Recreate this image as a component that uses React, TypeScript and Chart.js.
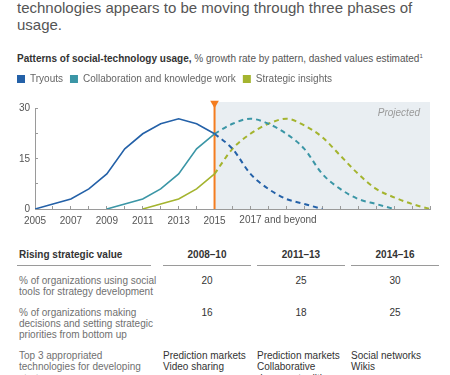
import React, { useEffect, useRef } from 'react';
import { Chart, registerables } from 'chart.js';

Chart.register(...registerables);

const FONT = '"Liberation Sans", Arial, Helvetica, sans-serif';

// ---- text ----
const titleLines = ['technologies appears to be moving through three phases of', 'usage.'];
const subtitleBold = 'Patterns of social-technology usage,';
const subtitleRest = ' % growth rate by pattern, dashed values estimated';
const subtitleNote = '1';

// ---- series ----
const seriesNames = ['Tryouts', 'Collaboration and knowledge work', 'Strategic insights'];
const seriesColors = ['#2461a8', '#3b96a6', '#a4b42f'];

const tryoutsActualStart = 2005;
const tryoutsActual = [0, 1.5, 3, 6, 10.5, 18, 22.5, 25.5, 27, 25.5, 22.5];
const collabActualStart = 2009;
const collabActual = [0, 1.5, 3, 6, 10.5, 18, 22.5];
const strategicActualStart = 2011;
const strategicActual = [0, 1.5, 3, 6, 10.5];

const estimateStart = 2015;
const tryoutsEstimated = [22.5, 18, 10.5, 6, 3, 1.5, 0];
const collabEstimated = [22.5, 25.5, 27, 25.5, 22.5, 18, 10.5, 6, 3, 1.5, 0];
const strategicEstimated = [10.5, 18, 22.5, 25.5, 27, 25, 21.5, 16, 10.5, 6, 3.5, 1.5, 0];

// ---- axes ----
const xMin = 2005;
const xMax = 2027;
const xLabelYears = [2005, 2007, 2009, 2011, 2013, 2015];
const beyondYear = 2017;
const beyondLabel = '2017 and beyond';
const yTicks = [0, 7.5, 15, 22.5, 30];
const yLabels = [0, 15, 30];
const yMax = 30;

// ---- projection ----
const todayYear = 2015;
const todayMarkerValue = 31.6;
const projectionTop = 32;
const projectedLabel = 'Projected';
const todayColor = '#f47d20';
const projectionFill = '#e9eef2';

// ---- table ----
const tableHeader = 'Rising strategic value';
const tableColumns = ['2008–10', '2011–13', '2014–16'];
const rowSocialLabel = ['% of organizations using social', 'tools for strategy development'];
const rowSocialValues = [20, 25, 30];
const rowBottomUpLabel = ['% of organizations making', 'decisions and setting strategic', 'priorities from bottom up'];
const rowBottomUpValues = [16, 18, 25];
const rowTechLabel = ['Top 3 appropriated', 'technologies for developing', 'strategy'];
const rowTechValues = [
  ['Prediction markets', 'Video sharing'],
  ['Prediction markets', 'Collaborative', 'document editing'],
  ['Social networks', 'Wikis'],
];

const TICK_LEN = -3;
const X_PAD = 9;
const LEGEND_GAP = 14.7;

const pts = (start: number, vals: number[]) => vals.map((v, i) => ({ x: start + i, y: v }));

const projectionPlugin = {
  id: 'projection',
  beforeLayout(chart: any) {
    const lg = chart.legend;
    if (lg && !lg._gapPatched) {
      const fit = lg.fit.bind(lg);
      lg.fit = () => {
        fit();
        lg.height += LEGEND_GAP;
      };
      lg._gapPatched = true;
    }
  },
  beforeDraw(chart: any) {
    const { ctx, chartArea, scales } = chart;
    const x0 = scales.x.getPixelForValue(todayYear);
    const y0 = scales.y.getPixelForValue(projectionTop);
    ctx.save();
    ctx.fillStyle = projectionFill;
    ctx.fillRect(x0, y0, chartArea.right - x0, chartArea.bottom - y0);
    ctx.restore();
  },
  afterDraw(chart: any) {
    const { ctx, chartArea, scales } = chart;
    const xs = scales.x;
    const ys = scales.y;
    ctx.save();
    ctx.font = `italic 10px ${FONT}`;
    ctx.fillStyle = '#9a9a9a';
    ctx.textAlign = 'right';
    ctx.textBaseline = 'middle';
    ctx.fillText(projectedLabel, chartArea.right - 10, ys.getPixelForValue(projectionTop) + 11);

    ctx.font = `10px ${FONT}`;
    ctx.fillStyle = '#555';
    ctx.textAlign = 'left';
    ctx.textBaseline = 'top';
    const w = ctx.measureText(String(beyondYear)).width;
    ctx.fillText(beyondLabel, xs.getPixelForValue(beyondYear) - w / 2, xs.top + TICK_LEN + X_PAD);
    ctx.restore();
  },
};

export default function App() {
  const canvasRef = useRef<HTMLCanvasElement>(null);

  useEffect(() => {
    document.body.style.margin = '0';
    const canvas = canvasRef.current;
    if (!canvas) return;

    const solid = (i: number, data: any[]) => ({
      label: seriesNames[i],
      data,
      borderColor: seriesColors[i],
      backgroundColor: seriesColors[i],
      borderWidth: 1.6,
      pointRadius: 0,
      tension: 0,
    });
    const dashed = (i: number, data: any[]) => ({
      label: seriesNames[i] + ' (estimated)',
      data,
      borderColor: seriesColors[i],
      backgroundColor: seriesColors[i],
      borderWidth: 2,
      borderDash: [5, 4],
      pointRadius: 0,
      cubicInterpolationMode: 'monotone',
    });

    const chart = new Chart(canvas, {
      type: 'line',
      data: {
        datasets: [
          solid(0, pts(tryoutsActualStart, tryoutsActual)),
          solid(1, pts(collabActualStart, collabActual)),
          solid(2, pts(strategicActualStart, strategicActual)),
          dashed(0, pts(estimateStart, tryoutsEstimated)),
          dashed(1, pts(estimateStart, collabEstimated)),
          dashed(2, pts(estimateStart, strategicEstimated)),
          {
            label: 'Today',
            data: [
              { x: todayYear, y: 0 },
              { x: todayYear, y: todayMarkerValue },
            ],
            borderColor: todayColor,
            backgroundColor: todayColor,
            borderWidth: 2,
            pointRadius: [0, 5],
            pointHoverRadius: 7,
            pointStyle: 'triangle',
            rotation: 180,
            pointBorderWidth: 0,
            pointBackgroundColor: todayColor,
            clip: false,
          } as any,
        ] as any,
      },
      options: {
        animation: false,
        responsive: false,
        maintainAspectRatio: false,
        events: [],
        layout: { padding: { left: 10, right: 20, top: 6, bottom: 5 } },
        plugins: {
          tooltip: { enabled: false },
          legend: {
            display: true,
            position: 'top',
            align: 'start',
            labels: {
              boxWidth: 8,
              boxHeight: 8,
              padding: 7,
              color: '#666',
              font: { family: FONT, size: 10 },
              generateLabels: () =>
                seriesNames.map((text, i) => ({
                  text,
                  fillStyle: seriesColors[i],
                  strokeStyle: seriesColors[i],
                  lineWidth: 0,
                  hidden: false,
                  datasetIndex: i,
                  fontColor: '#666',
                })),
            },
          },
        },
        scales: {
          x: {
            type: 'linear',
            min: xMin,
            max: xMax,
            border: { display: true, color: '#9a9a9a', width: 1 },
            grid: { display: true, drawOnChartArea: false, drawTicks: true, tickLength: TICK_LEN, color: '#9a9a9a' },
            ticks: {
              stepSize: 1,
              autoSkip: false,
              maxRotation: 0,
              padding: X_PAD,
              color: '#555',
              font: { family: FONT, size: 10 },
              callback: (v: any) => (xLabelYears.includes(Number(v)) ? String(v) : ''),
            },
          },
          y: {
            type: 'linear',
            min: 0,
            max: yMax,
            afterBuildTicks: (axis: any) => {
              axis.ticks = yTicks.map((value) => ({ value }));
            },
            afterFit: (scale: any) => {
              scale.width = 25;
            },
            border: { display: true, color: '#9a9a9a', width: 1 },
            grid: { display: true, drawOnChartArea: false, drawTicks: true, tickLength: TICK_LEN, color: '#9a9a9a' },
            ticks: {
              padding: 8,
              color: '#555',
              font: { family: FONT, size: 10 },
              callback: (v: any) => (yLabels.includes(Number(v)) ? String(v) : ''),
            },
          },
        },
      } as any,
      plugins: [projectionPlugin as any],
    });

    return () => chart.destroy();
  }, []);

  const colLefts = [163, 257, 351];
  const colWidth = 88;
  const labelStyle: React.CSSProperties = { position: 'absolute', left: 19, color: '#707070', fontSize: 10, lineHeight: '11px', whiteSpace: 'nowrap' };
  const valueStyle: React.CSSProperties = { position: 'absolute', width: colWidth, textAlign: 'center', color: '#333', fontSize: 10, lineHeight: '11px' };

  return (
    <div style={{ position: 'relative', width: 450, height: 375, overflow: 'hidden', fontFamily: FONT, background: '#fff' }}>
      <div style={{ position: 'absolute', left: 17, top: -1, fontSize: 15, lineHeight: '17px', color: '#555', whiteSpace: 'nowrap' }}>
        {titleLines.map((l, i) => (
          <div key={i}>{l}</div>
        ))}
      </div>
      <div style={{ position: 'absolute', left: 17, top: 53, fontSize: 10, lineHeight: '12px', color: '#555', whiteSpace: 'nowrap' }}>
        <span style={{ fontWeight: 'bold', color: '#333' }}>{subtitleBold}</span>
        {subtitleRest}
        <sup style={{ fontSize: 6, lineHeight: 0 }}>{subtitleNote}</sup>
      </div>

      <div style={{ position: 'absolute', left: 0, top: 61, width: 450, height: 180 }}>
        <canvas ref={canvasRef} width={450} height={180} style={{ display: 'block' }} />
      </div>

      <div style={{ position: 'absolute', left: 19, top: 249, fontSize: 10, lineHeight: '12px', fontWeight: 'bold', color: '#333' }}>{tableHeader}</div>
      <div style={{ position: 'absolute', left: 17, top: 265, width: 134, height: 1, background: '#9a9a9a' }} />
      {tableColumns.map((c, i) => (
        <React.Fragment key={c}>
          <div style={{ position: 'absolute', left: colLefts[i], top: 249, width: colWidth, textAlign: 'center', fontSize: 10, lineHeight: '12px', fontWeight: 'bold', color: '#333' }}>{c}</div>
          <div style={{ position: 'absolute', left: colLefts[i], top: 265, width: colWidth, height: 1, background: '#9a9a9a' }} />
        </React.Fragment>
      ))}

      <div style={{ ...labelStyle, top: 274.5 }}>
        {rowSocialLabel.map((l, i) => (
          <div key={i}>{l}</div>
        ))}
      </div>
      {rowSocialValues.map((v, i) => (
        <div key={i} style={{ ...valueStyle, left: colLefts[i], top: 274.5 }}>{v}</div>
      ))}

      <div style={{ ...labelStyle, top: 306.5 }}>
        {rowBottomUpLabel.map((l, i) => (
          <div key={i}>{l}</div>
        ))}
      </div>
      {rowBottomUpValues.map((v, i) => (
        <div key={i} style={{ ...valueStyle, left: colLefts[i], top: 306.5 }}>{v}</div>
      ))}

      <div style={{ ...labelStyle, top: 349.5, lineHeight: '11.5px' }}>
        {rowTechLabel.map((l, i) => (
          <div key={i}>{l}</div>
        ))}
      </div>
      {rowTechValues.map((items, i) => (
        <div key={i} style={{ position: 'absolute', left: colLefts[i], top: 349.5, fontSize: 10, lineHeight: '11.5px', color: '#333', whiteSpace: 'nowrap' }}>
          {items.map((t, j) => (
            <div key={j}>{t}</div>
          ))}
        </div>
      ))}
    </div>
  );
}
